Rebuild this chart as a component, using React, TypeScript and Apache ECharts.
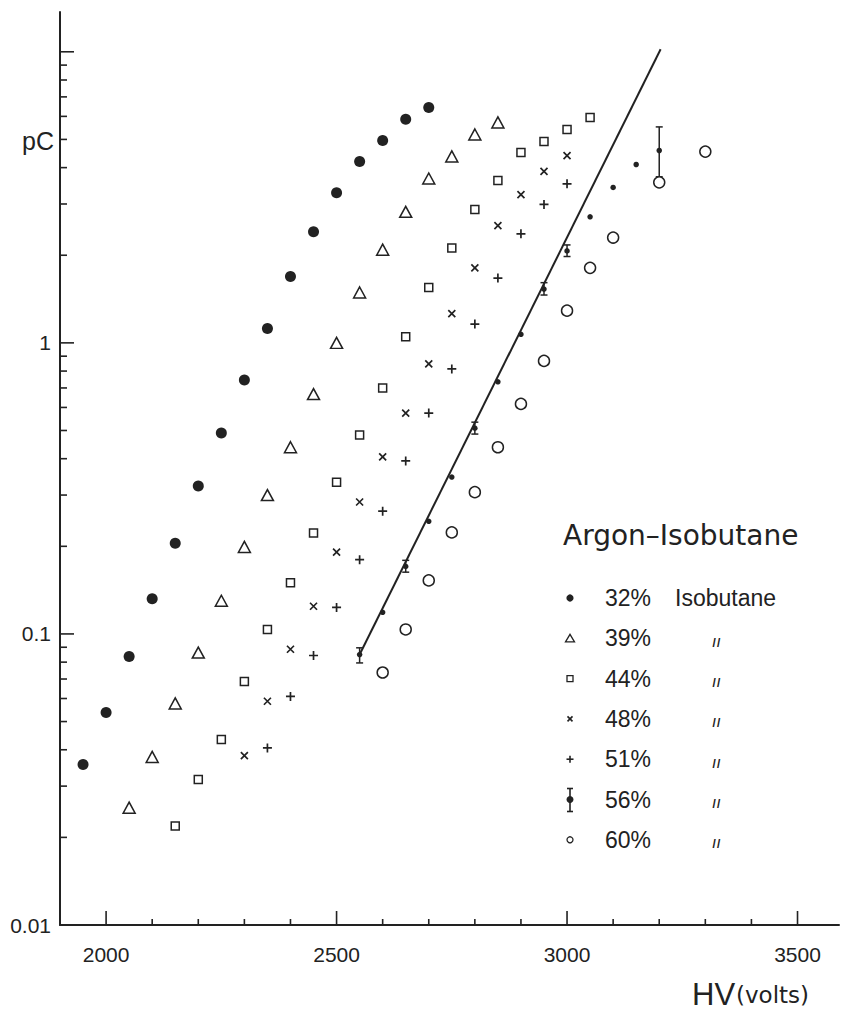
import React, { useEffect, useRef } from 'react';
import * as echarts from 'echarts';

// ---------- data (HV in volts, charge in pC) ----------
const hv32 = [1950, 2000, 2050, 2100, 2150, 2200, 2250, 2300, 2350, 2400, 2450, 2500, 2550, 2600, 2650, 2700];
const pc32 = [0.0356, 0.0537, 0.0837, 0.132, 0.205, 0.322, 0.49, 0.746, 1.12, 1.69, 2.41, 3.28, 4.2, 4.96, 5.86, 6.44];

const hv39 = [2050, 2100, 2150, 2200, 2250, 2300, 2350, 2400, 2450, 2500, 2550, 2600, 2650, 2700, 2750, 2800, 2850];
const pc39 = [0.0253, 0.0378, 0.0577, 0.0863, 0.13, 0.199, 0.3, 0.438, 0.667, 1.0, 1.49, 2.09, 2.82, 3.67, 4.37, 5.2, 5.72];

const hv44 = [2150, 2200, 2250, 2300, 2350, 2400, 2450, 2500, 2550, 2600, 2650, 2700, 2750, 2800, 2850, 2900, 2950, 3000, 3050];
const pc44 = [0.0219, 0.0316, 0.0434, 0.0686, 0.1036, 0.15, 0.222, 0.332, 0.482, 0.7, 1.05, 1.55, 2.12, 2.87, 3.61, 4.51, 4.92, 5.41, 5.95];

const hv48 = [2300, 2350, 2400, 2450, 2500, 2550, 2600, 2650, 2700, 2750, 2800, 2850, 2900, 2950, 3000];
const pc48 = [0.0382, 0.0587, 0.0886, 0.1245, 0.191, 0.284, 0.406, 0.574, 0.847, 1.26, 1.81, 2.53, 3.23, 3.88, 4.4];

const hv51 = [2350, 2400, 2450, 2500, 2550, 2600, 2650, 2700, 2750, 2800, 2850, 2900, 2950, 3000];
const pc51 = [0.0406, 0.061, 0.0843, 0.1233, 0.18, 0.264, 0.393, 0.574, 0.814, 1.16, 1.67, 2.37, 2.99, 3.52];

const hv56 = [2550, 2600, 2650, 2700, 2750, 2800, 2850, 2900, 2950, 3000, 3050, 3100, 3150, 3200];
const pc56 = [0.0849, 0.1187, 0.1706, 0.2437, 0.346, 0.509, 0.735, 1.07, 1.53, 2.07, 2.71, 3.42, 4.1, 4.58];

// error bars on some 56% points
const ebHv = [2550, 2650, 2800, 2950, 3000, 3200];
const ebLow = [0.0795, 0.163, 0.486, 1.46, 1.98, 3.72];
const ebHigh = [0.0896, 0.179, 0.534, 1.61, 2.17, 5.52];

const hv60 = [2600, 2650, 2700, 2750, 2800, 2850, 2900, 2950, 3000, 3050, 3100, 3200, 3300];
const pc60 = [0.0737, 0.1036, 0.1527, 0.2233, 0.307, 0.438, 0.617, 0.867, 1.29, 1.81, 2.3, 3.56, 4.54];

// fitted straight line (56% series)
const fitHv = [2550, 3203];
const fitPc = [0.085, 10.2];

// axes
const xMin = 1900;
const xMax = 3590;
const yMin = 0.01;
const yMax = 13.7;
const xMajorTicks = [2000, 2500, 3000, 3500];
const xMinorTicks = [2100, 2200, 2300, 2400, 2600, 2700, 2800, 2900, 3100, 3200, 3300, 3400];
const yDecades = [0.01, 0.1, 1];
const yMajorTicks = [0.1, 1, 10];
const yLabels = ['0.01', '0.1', '1'];

const legendPct = ['32%', '39%', '44%', '48%', '51%', '56%', '60%'];
const legendTitle = 'Argon\u2013Isobutane';

const INK = '#222';
const NUM_FONT = '"Liberation Sans", Arial, sans-serif';
const TXT_FONT = '"DejaVu Sans", sans-serif';

const zip = (xs: number[], ys: number[]) => xs.map((x, i) => [x, ys[i]]);

function App() {
  const ref = useRef<HTMLDivElement>(null);

  useEffect(() => {
    const chart = echarts.init(ref.current!, null, { renderer: 'svg' });

    const yMinor: number[] = [];
    yDecades.forEach((d) => {
      for (let k = 2; k <= 9; k++) yMinor.push(+(d * k).toPrecision(3));
    });

    const tickData: number[][] = [];
    xMajorTicks.forEach((v) => tickData.push([v, yMin, 1, 0]));
    xMinorTicks.forEach((v) => tickData.push([v, yMin, 0, 0]));
    yMajorTicks.forEach((v) => tickData.push([xMin, v, 1, 1]));
    yMinor.forEach((v) => tickData.push([xMin, v, 0, 1]));

    const fmtY = (v: number) => {
      for (let i = 0; i < yDecades.length; i++) {
        if (Math.abs(v - yDecades[i]) / yDecades[i] < 1e-6) return yLabels[i];
      }
      return '';
    };

    const legendX = 570;
    const rowY = (i: number) => 598 + i * 40.3;
    const lg: any[] = [];
    const ls = { stroke: INK, lineWidth: 1.6, fill: 'none' };
    // symbols
    lg.push({ type: 'circle', shape: { cx: legendX, cy: rowY(0), r: 3.6 }, style: { fill: INK } });
    lg.push({
      type: 'polygon',
      shape: { points: [[legendX - 4.5, rowY(1) + 3.5], [legendX + 4.5, rowY(1) + 3.5], [legendX, rowY(1) - 4]] },
      style: { ...ls, fill: '#fff', lineWidth: 1.3 },
    });
    lg.push({ type: 'rect', shape: { x: legendX - 3, y: rowY(2) - 3, width: 6, height: 6 }, style: { ...ls, fill: '#fff', lineWidth: 1.3 } });
    lg.push({ type: 'line', shape: { x1: legendX - 2.5, y1: rowY(3) - 2.5, x2: legendX + 2.5, y2: rowY(3) + 2.5 }, style: ls });
    lg.push({ type: 'line', shape: { x1: legendX - 2.5, y1: rowY(3) + 2.5, x2: legendX + 2.5, y2: rowY(3) - 2.5 }, style: ls });
    lg.push({ type: 'line', shape: { x1: legendX - 3.5, y1: rowY(4), x2: legendX + 3.5, y2: rowY(4) }, style: ls });
    lg.push({ type: 'line', shape: { x1: legendX, y1: rowY(4) - 3.5, x2: legendX, y2: rowY(4) + 3.5 }, style: ls });
    lg.push({ type: 'line', shape: { x1: legendX, y1: rowY(5) - 11, x2: legendX, y2: rowY(5) + 12 }, style: ls });
    lg.push({ type: 'line', shape: { x1: legendX - 3, y1: rowY(5) - 11, x2: legendX + 3, y2: rowY(5) - 11 }, style: ls });
    lg.push({ type: 'line', shape: { x1: legendX - 3, y1: rowY(5) + 12, x2: legendX + 3, y2: rowY(5) + 12 }, style: ls });
    lg.push({ type: 'circle', shape: { cx: legendX, cy: rowY(5), r: 3.5 }, style: { fill: INK } });
    lg.push({ type: 'circle', shape: { cx: legendX, cy: rowY(6), r: 3 }, style: { ...ls, fill: '#fff', lineWidth: 1.3 } });
    legendPct.forEach((t, i) => {
      lg.push({
        type: 'text',
        x: 605,
        y: rowY(i),
        style: { text: t, fill: INK, font: `23px ${NUM_FONT}`, textAlign: 'left', textVerticalAlign: 'middle' },
      });
      lg.push({
        type: 'text',
        x: i === 0 ? 675 : 712,
        y: i === 0 ? rowY(i) : rowY(i) + 3,
        style: {
          text: i === 0 ? 'Isobutane' : '\u0131\u0131',
          fill: INK,
          font: i === 0 ? `23px ${NUM_FONT}` : `italic 16px ${TXT_FONT}`,
          textAlign: 'left',
          textVerticalAlign: 'middle',
        },
      });
    });

    const option: any = {
      animation: false,
      backgroundColor: '#fff',
      grid: { left: 60, right: 1, top: 12, bottom: 85, containLabel: false },
      xAxis: {
        type: 'value',
        min: xMin,
        max: xMax,
        interval: 100,
        axisLine: { show: true, onZero: false, lineStyle: { color: INK, width: 2 } },
        axisTick: { show: false },
        splitLine: { show: false },
        axisLabel: {
          margin: 19,
          color: INK,
          fontSize: 21,
          fontFamily: NUM_FONT,
          formatter: (v: number) => (Math.round(v) % 500 === 0 && Math.round(v) >= 2000 && Math.round(v) <= 3500 ? String(Math.round(v)) : ''),
        },
      },
      yAxis: {
        type: 'log',
        logBase: 10,
        min: yMin,
        max: yMax,
        axisLine: { show: true, onZero: false, lineStyle: { color: INK, width: 2 } },
        axisTick: { show: false },
        splitLine: { show: false },
        minorTick: { show: false },
        axisLabel: { margin: 9, color: INK, fontSize: 21, fontFamily: NUM_FONT, formatter: fmtY },
      },
      graphic: [
        { type: 'text', x: 22, y: 141, style: { text: 'pC', fill: INK, font: `25px ${NUM_FONT}`, textAlign: 'left', textVerticalAlign: 'middle' } },
        { type: 'text', x: 692, y: 994, style: { text: 'HV', fill: INK, font: `31px ${NUM_FONT}`, lineHeight: 26, textAlign: 'left', textVerticalAlign: 'middle' } },
        { type: 'text', x: 736, y: 995, style: { text: '(volts)', fill: INK, font: `23px ${TXT_FONT}`, lineHeight: 24, textAlign: 'left', textVerticalAlign: 'middle' } },
        { type: 'text', x: 563, y: 535, style: { text: legendTitle, fill: INK, font: `28px ${TXT_FONT}`, textAlign: 'left', textVerticalAlign: 'middle' } },
        ...lg,
      ],
      series: [
        {
          type: 'custom',
          name: 'ticks',
          silent: true,
          clip: false,
          data: tickData,
          encode: { x: 0, y: 1 },
          renderItem: (_p: any, api: any) => {
            const p = api.coord([api.value(0), api.value(1)]);
            const major = api.value(2) === 1;
            const isY = api.value(3) === 1;
            const len = major ? 14 : isY ? 7 : 6;
            return {
              type: 'line',
              shape: isY ? { x1: p[0], y1: p[1], x2: p[0] + len, y2: p[1] } : { x1: p[0], y1: p[1], x2: p[0], y2: p[1] - len },
              style: { stroke: INK, lineWidth: 1.6 },
            };
          },
        },
        {
          type: 'line',
          name: 'fit',
          data: zip(fitHv, fitPc),
          symbol: 'none',
          lineStyle: { color: INK, width: 2 },
          silent: true,
        },
        {
          type: 'scatter',
          name: '32%',
          data: zip(hv32, pc32),
          symbol: 'circle',
          symbolSize: 11,
          itemStyle: { color: INK, opacity: 1 },
        },
        {
          type: 'scatter',
          name: '39%',
          data: zip(hv39, pc39),
          symbol: 'triangle',
          symbolSize: [12, 11],
          itemStyle: { color: '#fff', borderColor: INK, borderWidth: 1.5, opacity: 1 },
        },
        {
          type: 'scatter',
          name: '44%',
          data: zip(hv44, pc44),
          symbol: 'rect',
          symbolSize: 8,
          itemStyle: { color: '#fff', borderColor: INK, borderWidth: 1.5, opacity: 1 },
        },
        {
          type: 'scatter',
          name: '48%',
          data: zip(hv48, pc48),
          symbol: 'path://M0,0L10,10M10,0L0,10',
          symbolSize: 7,
          itemStyle: { color: 'none', borderColor: INK, borderWidth: 1.7, opacity: 1 },
        },
        {
          type: 'scatter',
          name: '51%',
          data: zip(hv51, pc51),
          symbol: 'path://M5,0L5,10M0,5L10,5',
          symbolSize: 9,
          itemStyle: { color: 'none', borderColor: INK, borderWidth: 1.7, opacity: 1 },
        },
        {
          type: 'custom',
          name: '56% err',
          silent: true,
          clip: false,
          data: ebHv.map((x, i) => [x, ebLow[i], ebHigh[i]]),
          encode: { x: 0, y: [1, 2] },
          renderItem: (_p: any, api: any) => {
            const x = api.value(0);
            const a = api.coord([x, api.value(1)]);
            const b = api.coord([x, api.value(2)]);
            const st = { stroke: INK, lineWidth: 1.5 };
            return {
              type: 'group',
              children: [
                { type: 'line', shape: { x1: a[0], y1: a[1], x2: b[0], y2: b[1] }, style: st },
                { type: 'line', shape: { x1: a[0] - 3.5, y1: a[1], x2: a[0] + 3.5, y2: a[1] }, style: st },
                { type: 'line', shape: { x1: b[0] - 3.5, y1: b[1], x2: b[0] + 3.5, y2: b[1] }, style: st },
              ],
            };
          },
        },
        {
          type: 'scatter',
          name: '56%',
          data: zip(hv56, pc56),
          symbol: 'circle',
          symbolSize: 5.5,
          itemStyle: { color: INK, opacity: 1 },
        },
        {
          type: 'scatter',
          name: '60%',
          data: zip(hv60, pc60),
          symbol: 'circle',
          symbolSize: 11,
          itemStyle: { color: '#fff', borderColor: INK, borderWidth: 1.5, opacity: 1 },
        },
      ],
    };

    chart.setOption(option);
    return () => chart.dispose();
  }, []);

  return (
    <div
      ref={ref}
      style={{ position: 'absolute', left: 0, top: 0, width: 842, height: 1010, background: '#fff' }}
    />
  );
}

export default App;
